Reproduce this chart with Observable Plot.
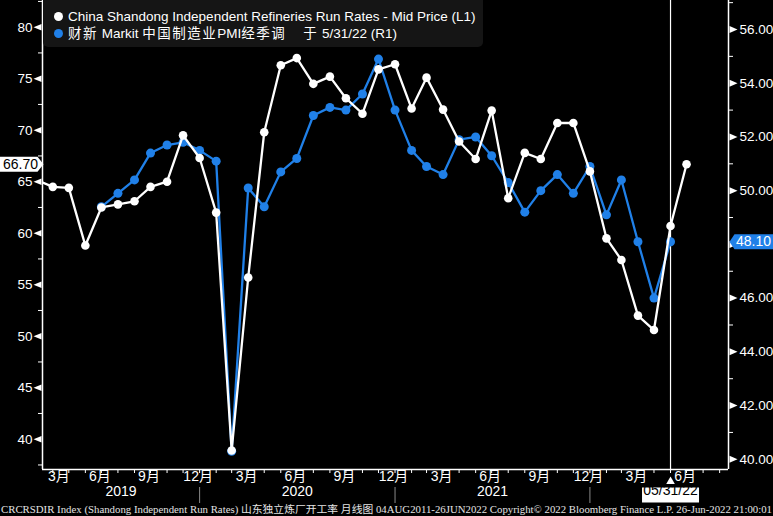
<!DOCTYPE html>
<html><head><meta charset="utf-8">
<script src="https://cdn.jsdelivr.net/npm/d3@7"></script>
<script src="https://cdn.jsdelivr.net/npm/@observablehq/plot@0.6"></script>
<style>
html,body{margin:0;padding:0;background:#000;overflow:hidden}
#wrap{position:relative;width:773px;height:516px;background:#000;overflow:hidden}
#legend{position:absolute;left:43px;top:0;width:440px;height:47px;background:#151515;border-radius:0 0 5px 5px;font:13.5px "Liberation Sans",Arial,"Noto Sans CJK SC",sans-serif;color:#fff}
.item{position:absolute;left:25px;white-space:nowrap;line-height:16px}
.sw{position:absolute;left:-14.5px;top:3.5px;width:9px;height:9px;border-radius:50%}
.cjk{letter-spacing:1.5px}
#footer{position:absolute;left:0;top:502px}
</style></head><body>
<div id="wrap">
<div id="chart"></div>
<div id="legend">
 <div class="item" style="top:8.5px"><span class="sw" style="background:#fff"></span>China Shandong Independent Refineries Run Rates - Mid Price (L1)</div>
 <div class="item" style="top:25.5px"><span class="sw" style="background:#2080e8"></span><span class="cjk">财新</span> Markit <span class="cjk">中国制造业</span>PMI<span class="cjk">经季调</span><span style="margin-left:17px" class="cjk">于</span> 5/31/22 (R1)</div>
</div>
<svg id="footer" width="773" height="14"><text x="1" y="11" textLength="771" lengthAdjust="spacingAndGlyphs" fill="#e4e4e4" font-family="'Liberation Serif','Noto Sans CJK SC',serif" font-size="10.5">CRCRSDIR Index (Shandong Independent Run Rates) 山东独立炼厂开工率  月线图 04AUG2011-26JUN2022 Copyright© 2022 Bloomberg Finance L.P. 26-Jun-2022 21:00:01</text></svg>
</div>
<script>
// ---- data ----
const firstMonth = "2019-02"; // month-end observations Feb 2019 .. Jun 2022
const runRates = [
  65.2, 64.5, 64.4, 58.8, 62.5, 62.8, 63.1, 64.5, 65.0, 69.5, 67.3,
  62.0, 38.9, 55.7, 69.8, 76.3, 77.0, 74.5, 75.2, 73.1, 71.6, 75.9, 76.4,
  72.1, 75.1, 72.0, 68.9, 67.2, 71.9, 63.4, 67.8, 67.2, 70.7, 70.7, 66.0,
  59.5, 57.4, 52.0, 50.6, 60.7, 66.7
];
const caixinPMI = [
  null, null, null, null, 49.4, 49.9, 50.4, 51.4, 51.7, 51.8, 51.5,
  51.1, 40.3, 50.1, 49.4, 50.7, 51.2, 52.8, 53.1, 53.0, 53.6, 54.9, 53.0,
  51.5, 50.9, 50.6, 51.9, 52.0, 51.3, 50.3, 49.2, 50.0, 50.6, 49.9, 50.9,
  49.1, 50.4, 48.1, 46.0, 48.1, null
];
const leftMajor = [40, 45, 50, 55, 60, 65, 70, 75, 80];
const leftMinor = [37.5, 42.5, 47.5, 52.5, 57.5, 62.5, 67.5, 72.5, 77.5, 82.5];
const rightMajor = [40, 42, 44, 46, 48, 50, 52, 54, 56];
const rightMinor = [41, 43, 45, 47, 49, 51, 53, 55, 57];
const yearNames = ["2019", "2020", "2021"];
const lastWhite = 66.70, lastBlue = 48.10, markerLabel = "05/31/22";

// ---- scales ----
const BLUE = "#2080e8";
const yDomain = [37.06, 82.59];
const rDomain = [39.62, 57.08];
const toLeft = r => yDomain[0] + (r - rDomain[0]) * (yDomain[1] - yDomain[0]) / (rDomain[1] - rDomain[0]);
const fromLeft = v => rDomain[0] + (v - yDomain[0]) * (rDomain[1] - rDomain[0]) / (yDomain[1] - yDomain[0]);
const xDomain = [new Date(Date.UTC(2019, 2, 11, 17)), new Date(Date.UTC(2022, 8, 16, 14))];

const monthEnd = d => d3.utcDay.offset(d3.utcMonth.offset(d, 1), -1);
const start = d3.utcParse("%Y-%m")(firstMonth);
const data = runRates.map((v, i) => {
  const m = d3.utcMonth.offset(start, i);
  return {date: monthEnd(m), white: v, blue: caixinPMI[i] == null ? NaN : toLeft(caixinPMI[i])};
});
const markerDate = data.find(d => d.date.getUTCFullYear() === 2022 && d.date.getUTCMonth() === 4).date;
const tickMonths = d3.utcMonth.range(new Date(Date.UTC(2019, 2, 1)), new Date(Date.UTC(2022, 8, 1))).map(monthEnd);
const labelMonths = tickMonths.filter(d => d.getUTCMonth() % 3 === 2 && d <= data[data.length - 1].date);
const yearSeps = tickMonths.filter(d => d.getUTCMonth() === 11);
const bounds = [xDomain[0], ...yearSeps];
const yearLabels = yearNames.map((t, i) => ({x: new Date((+bounds[i] + +bounds[i + 1]) / 2), t}));
// right tick labels hidden under the last-value tag are not shown (as in the reference)
const rightLabeled = rightMajor.filter(v => Math.abs(v - lastBlue) > 0.5);

// ---- custom symbols ----
const sym = pts => ({draw(ctx) { ctx.moveTo(pts[0][0], pts[0][1]); for (const p of pts.slice(1)) ctx.lineTo(p[0], p[1]); ctx.closePath(); }});
const triLeft = sym([[-9, 0], [-1, -3.2], [-1, 3.2]]);
const triRight = sym([[1, -3.5], [1, 3.5], [9, 0]]);
const tagRight = sym([[-43, -7.5], [-5, -7.5], [1, 0], [-5, 7.5], [-43, 7.5]]);
const tagLeft = sym([[1, 0], [6, -7.5], [50, -7.5], [50, 7.5], [6, 7.5]]);
const dateBox = sym([[-28.5, -7.5], [28.5, -7.5], [28.5, 7.5], [-28.5, 7.5]]);

const plot = Plot.plot({
  width: 773, height: 502,
  marginLeft: 42, marginRight: 45, marginTop: 0, marginBottom: 33,
  style: {background: "#000", color: "#fff", fontFamily: '"Liberation Sans", Arial, "Noto Sans CJK SC", sans-serif', fontSize: "13px", overflow: "visible"},
  x: {type: "utc", domain: xDomain, axis: null},
  y: {domain: yDomain, axis: null},
  marks: [
    // axes lines
    Plot.ruleX([xDomain[0], xDomain[1]], {stroke: "#fff", strokeWidth: 1.5}),
    Plot.ruleY([yDomain[0]], {stroke: "#fff", strokeWidth: 1.5}),
    // left axis
    Plot.axisY(leftMinor, {anchor: "left", tickSize: 4, tickFormat: () => "", label: null, stroke: "#fff"}),
    Plot.axisY(leftMajor, {anchor: "left", tickSize: 0, tickPadding: 10, fontSize: 13.5, label: null, fill: "#fff"}),
    Plot.dot(leftMajor, {y: d => d, frameAnchor: "left", symbol: triLeft, r: 3, fill: "#fff", stroke: null}),
    // right axis
    Plot.axisY(rightMinor.map(toLeft), {anchor: "right", tickSize: 4, tickFormat: () => "", label: null, stroke: "#fff"}),
    Plot.axisY(rightLabeled.map(toLeft), {anchor: "right", tickSize: 0, tickPadding: 11, fontSize: 13.5, label: null, fill: "#fff", tickFormat: d => fromLeft(d).toFixed(2)}),
    Plot.dot(rightMajor.map(toLeft), {y: d => d, frameAnchor: "right", symbol: triRight, r: 3, fill: "#fff", stroke: null}),
    // x axis
    Plot.axisX(tickMonths, {tickSize: 4, tickFormat: () => "", label: null, stroke: "#fff"}),
    Plot.text(labelMonths.slice(0, 1), {x: d => d, frameAnchor: "bottom", dy: 11, dx: 6, text: d => (d.getUTCMonth() + 1) + "月", fontSize: 14, fill: "#fff"}),
    Plot.text(labelMonths.slice(1), {x: d => d, frameAnchor: "bottom", dy: 11, dx: -1.5, text: d => (d.getUTCMonth() + 1) + "月", fontSize: 14, fill: "#fff"}),
    Plot.ruleX(yearSeps, {y1: yDomain[0], y2: yDomain[0], insetTop: 18, insetBottom: -34, stroke: "#8a8a8a", strokeWidth: 1}),
    Plot.text(yearLabels, {x: "x", text: "t", frameAnchor: "bottom", dy: 26, fontSize: 14, fill: "#fff"}),
    // marker
    Plot.ruleX([markerDate], {stroke: "#fff", strokeWidth: 1.2}),
    Plot.dot([markerDate], {x: d => d, frameAnchor: "bottom", dy: 12, symbol: "triangle", r: 3.2, fill: "#fff", stroke: null}),
    Plot.dot([markerDate], {x: d => d, frameAnchor: "bottom", dy: 25.5, symbol: dateBox, r: 3, fill: "#fff", stroke: null}),
    Plot.text([markerDate], {x: d => d, frameAnchor: "bottom", dy: 25.5, textAnchor: "middle", text: () => markerLabel, fill: "#000", fontSize: 14}),
    // series
    Plot.line(data, {x: "date", y: "blue", stroke: BLUE, strokeWidth: 2.3, clip: true}),
    Plot.dot(data, {x: "date", y: "blue", fill: BLUE, r: 4.5, stroke: null, clip: true}),
    Plot.line(data, {x: "date", y: "white", stroke: "#fff", strokeWidth: 2.3, clip: true}),
    Plot.dot(data, {x: "date", y: "white", fill: "#fff", r: 4.3, stroke: null, clip: true}),
    // last value tags
    Plot.dot([lastWhite], {y: d => d, frameAnchor: "left", symbol: tagRight, r: 3, fill: "#fff", stroke: null}),
    Plot.text([lastWhite], {y: d => d, frameAnchor: "left", dx: -22, textAnchor: "middle", text: d => d.toFixed(2), fill: "#000", fontSize: 14}),
    Plot.dot([toLeft(lastBlue)], {y: d => d, frameAnchor: "right", symbol: tagLeft, r: 3, fill: BLUE, stroke: null}),
    Plot.text([toLeft(lastBlue)], {y: d => d, frameAnchor: "right", dx: 25, textAnchor: "middle", text: () => lastBlue.toFixed(2), fill: "#fff", fontSize: 14})
  ]
});
document.getElementById("chart").appendChild(plot);
</script>
</body></html>
